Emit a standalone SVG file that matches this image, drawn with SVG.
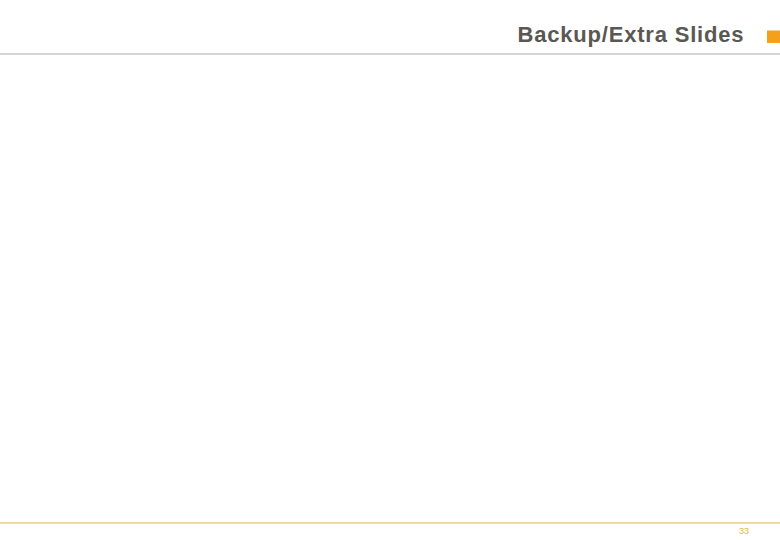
<svg xmlns="http://www.w3.org/2000/svg" width="780" height="540" viewBox="0 0 780 540">
  <style>
    .title { font-family: "Liberation Sans", Arial, sans-serif; font-size: 22px; font-weight: bold; fill: #5a5852; }
    .page { font-family: "Liberation Sans", Arial, sans-serif; font-size: 9px; fill: #e0b84a; }
  </style>
  <rect x="0" y="0" width="780" height="540" fill="#ffffff"/>
  <g id="header">
    <text class="title" x="517.5" y="41.5" textLength="226" lengthAdjust="spacing">Backup/Extra Slides</text>
    <rect x="767" y="30.5" width="13" height="12.5" fill="#f5a01a"/>
    <line x1="0" y1="54" x2="780" y2="54" stroke="#c8c8c8" stroke-width="1.5"/>
  </g>
  <g id="footer">
    <line x1="0" y1="523" x2="780" y2="523" stroke="#e2b54a" stroke-width="1.2"/>
    <text class="page" x="749" y="534" text-anchor="end">33</text>
  </g>
</svg>
